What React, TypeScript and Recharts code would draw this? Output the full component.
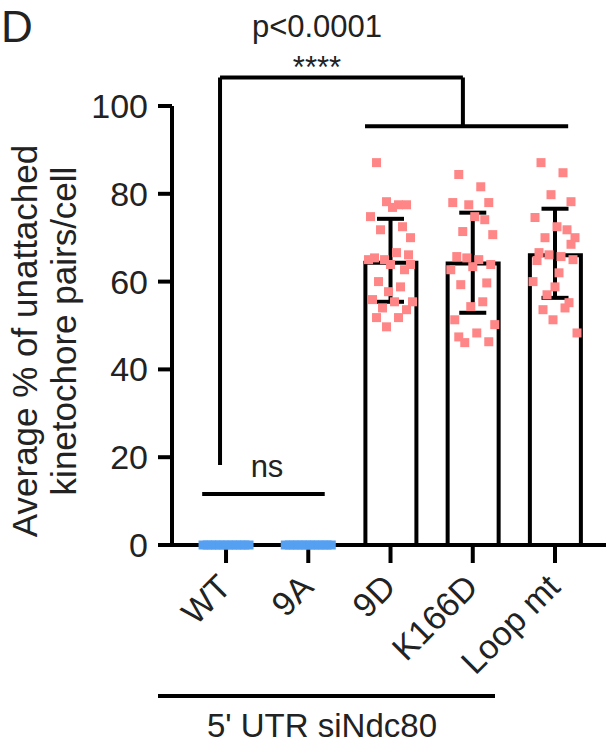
import React from 'react';
import { ComposedChart, Bar, Scatter, ErrorBar, XAxis, YAxis, ReferenceLine } from 'recharts';

const categories = ['WT', '9A', '9D', 'K166D', 'Loop mt'];
const means = [0, 0, 64.3, 64.1, 66.0];
const errDown = [0, 0, 8.9, 11.2, 9.7];
const errUp = [0, 0, 10.0, 11.6, 10.6];
const yTicks = [0, 20, 40, 60, 80, 100];

// individual cells (% unattached pairs)
const wtValues = [0, 0, 0, 0, 0, 0, 0, 0, 0, 0, 0, 0];
const a9Values = [0, 0, 0, 0, 0, 0, 0, 0, 0, 0, 0, 0];
const d9Values = [87.1, 77.5, 78.2, 77.5, 74.8, 76.9, 72.5, 71.8, 70.0, 65.4, 65.0, 66.6, 66.1, 65.0,
  63.9, 62.7, 60.0, 58.8, 57.7, 55.4, 55.9, 55.4, 54.0, 53.6, 51.8, 51.8, 49.7, 63.9];
const k166Values = [84.4, 81.6, 77.5, 78.0, 78.0, 74.8, 74.1, 71.4, 70.7, 65.7, 65.4, 65.0, 63.9, 62.7,
  63.4, 59.7, 59.3, 55.4, 54.3, 50.2, 51.3, 48.3, 46.1, 46.3, 47.4];
const loopValues = [87.1, 84.8, 79.8, 78.2, 74.6, 72.5, 71.8, 70.0, 70.0, 66.6, 66.1, 65.7, 65.0, 60.0,
  58.8, 55.2, 53.6, 54.0, 51.3, 48.3, 64.8, 62.0, 57.0, 68.5];

const FONT = '"Liberation Sans", Arial, Helvetica, sans-serif';
const PINK = '#ff8686';
const BLUE = '#56a0f2';
const TEXT = '#222';

const jitter = [-14, 8, -4, 16, -20, 2, 12, -10, 20, -16, -6, 6, 18, -22, 0, 14, -12, 10, -2, 22, -18, 4, -8, 16, -14, 8, -4, 20];

const barData = categories.map((name, i) => ({ x: i, name, mean: means[i] }));
const errData = categories
  .map((name, i) => ({ x: i, y: means[i], err: [errDown[i], errUp[i]] }))
  .filter((d) => d.y > 0);

const groups = [wtValues, a9Values, d9Values, k166Values, loopValues];
const bluePts: any[] = [];
const pinkPts: any[] = [];
groups.forEach((vals, gi) =>
  vals.forEach((v, k) => (gi < 2 ? bluePts : pinkPts).push({ x: gi, y: v, k, n: vals.length }))
);

const PinkSquare = (p: any) => {
  const dx = jitter[p.payload.k % jitter.length];
  return <rect x={p.cx + dx - 4.5} y={p.cy - 4.5} width={9} height={9} fill={PINK} />;
};
const BlueSquare = (p: any) => {
  const { k, n } = p.payload;
  const dx = -23 + (46 * k) / (n - 1);
  return <rect x={p.cx + dx - 4.5} y={p.cy - 4.5} width={9} height={9} fill={BLUE} />;
};
const NoShape = () => <g />;

const CatTick = (p: any) => {
  const x = p.x + 7;
  const y = p.y + 26;
  return (
    <text x={x} y={y} textAnchor="end" transform={`rotate(-45 ${x} ${y})`} fontSize={34} fill={TEXT} fontFamily={FONT}>
      {categories[p.payload.value]}
    </text>
  );
};

const line = { stroke: '#000', strokeWidth: 4, ifOverflow: 'visible' as const };

export default function App() {
  return (
    <div style={{ position: 'absolute', left: 0, top: 0, width: 609, height: 747, background: '#fff' }}>
      <ComposedChart width={609} height={747} data={barData} margin={{ top: 106, right: 3, left: 0, bottom: 0 }}>
        <XAxis
          type="number"
          dataKey="x"
          domain={[-0.657, 4.62]}
          ticks={[0, 1, 2, 3, 4]}
          interval={0}
          height={202}
          tickSize={18}
          tickMargin={0}
          tick={<CatTick />}
          axisLine={{ stroke: '#000', strokeWidth: 4 }}
          tickLine={{ stroke: '#000', strokeWidth: 4 }}
        />
        <YAxis
          type="number"
          domain={[0, 100]}
          ticks={yTicks}
          width={172}
          tickSize={14}
          tickMargin={10}
          tick={{ fontSize: 34, fill: TEXT, fontFamily: FONT }}
          axisLine={{ stroke: '#000', strokeWidth: 4 }}
          tickLine={{ stroke: '#000', strokeWidth: 4 }}
        />
        <Bar dataKey="mean" barSize={51} fill="#fff" stroke="#000" strokeWidth={4} isAnimationActive={false} />
        <Scatter data={bluePts} dataKey="y" shape={BlueSquare} isAnimationActive={false} />
        <Scatter data={pinkPts} dataKey="y" shape={PinkSquare} isAnimationActive={false} />
        <Scatter data={errData} dataKey="y" shape={NoShape} isAnimationActive={false}>
          <ErrorBar dataKey="err" direction="y" width={13.5} stroke="#000" strokeWidth={4} />
        </Scatter>
        {/* significance brackets */}
        <ReferenceLine segment={[{ x: -0.073, y: 18.2 }, { x: -0.073, y: 106.5 }]} {...line} />
        <ReferenceLine segment={[{ x: -0.073, y: 106.5 }, { x: 2.88, y: 106.5 }]} {...line} />
        <ReferenceLine segment={[{ x: 2.88, y: 106.5 }, { x: 2.88, y: 95.4 }]} {...line} />
        <ReferenceLine segment={[{ x: 1.69, y: 95.4 }, { x: 4.16, y: 95.4 }]} {...line} />
        <ReferenceLine segment={[{ x: -0.29, y: 11.6 }, { x: 1.2, y: 11.6 }]} {...line} />
      </ComposedChart>
      <svg width={609} height={747} style={{ position: 'absolute', left: 0, top: 0, pointerEvents: 'none' }} fontFamily={FONT}>
        <text x={1} y={42} fontSize={44} fill={TEXT}>D</text>
        <text x={317} y={37} fontSize={31} fill={TEXT} textAnchor="middle">p&lt;0.0001</text>
        <text x={317} y={78} fontSize={31} fill={TEXT} textAnchor="middle">****</text>
        <text x={267} y={477} fontSize={31} fill={TEXT} textAnchor="middle">ns</text>
        <text transform="translate(37,341) rotate(-90)" fontSize={35} fill={TEXT} textAnchor="middle">Average % of unattached</text>
        <text transform="translate(76,331) rotate(-90)" fontSize={35} fill={TEXT} textAnchor="middle">kinetochore pairs/cell</text>
        <line x1={158} y1={696} x2={495} y2={696} stroke="#000" strokeWidth={4} />
        <text x={322} y={737} fontSize={33} fill={TEXT} textAnchor="middle">5' UTR siNdc80</text>
      </svg>
    </div>
  );
}
